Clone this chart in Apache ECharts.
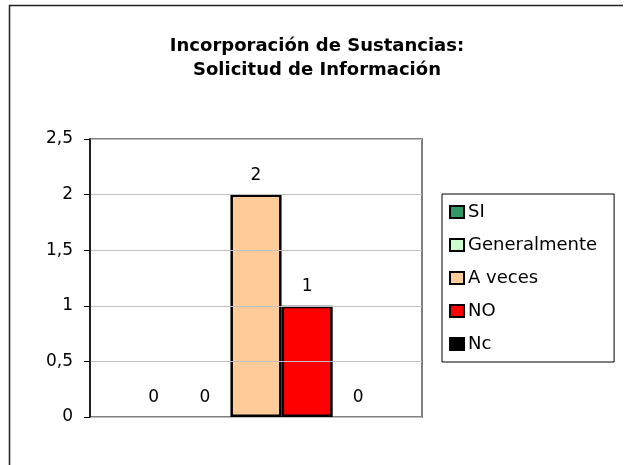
<!DOCTYPE html>
<html>
<head>
<meta charset="utf-8">
<script src="https://cdn.jsdelivr.net/npm/echarts@6/dist/echarts.min.js"></script>
<style>
  html, body { margin: 0; padding: 0; background: #fff; }
  #chart { width: 628px; height: 465px; }
</style>
</head>
<body>
<div id="chart"></div>
<script>
// Encuesta: respuestas sobre solicitud de información al incorporar sustancias
const titulo = 'Incorporación de Sustancias:\nSolicitud de Información';
const respuestas = ['SI', 'Generalmente', 'A veces', 'NO', 'Nc'];
const cantidades = [0, 0, 2, 1, 0];
const colores = ['#339966', '#CCFFCC', '#FFCC99', '#FF0000', '#000000'];
const grupo = ['Solicitud de Información'];
const escalaY = { min: 0, max: 2.5, interval: 0.5 };

const fuente = 'DejaVu Sans';

const chart = echarts.init(document.getElementById('chart'), null, { renderer: 'canvas' });

const series = respuestas.map((nombre, i) => ({
  name: nombre,
  type: 'bar',
  data: [{
    value: cantidades[i],
    // una barra de altura cero no debe dejar un trazo negro sobre el eje
    itemStyle: { borderWidth: cantidades[i] === 0 ? 0 : 2.5 }
  }],
  barGap: '0%',
  barCategoryGap: '23%',
  itemStyle: { color: colores[i], borderColor: '#000', borderWidth: 2.5 },
  label: {
    show: true,
    position: 'top',
    distance: 11,
    formatter: '{c}',
    color: '#000',
    fontFamily: fuente,
    fontSize: 17
  },
  emphasis: { disabled: true }
}));

chart.setOption({
  animation: false,
  backgroundColor: '#fff',
  title: {
    text: titulo,
    left: 317,
    top: 34,
    textAlign: 'center',
    padding: 0,
    textStyle: {
      fontFamily: fuente,
      fontWeight: 'bold',
      fontSize: 18,
      lineHeight: 24,
      color: '#000'
    }
  },
  legend: {
    data: respuestas,
    orient: 'vertical',
    left: 442,
    top: 194,
    padding: [8, 17, 8, 7],
    itemGap: 13,
    itemWidth: 14,
    itemHeight: 12,
    borderColor: '#000',
    borderWidth: 1,
    backgroundColor: '#fff',
    icon: 'rect',
    itemStyle: { borderColor: '#000', borderWidth: 2 },
    textStyle: { fontFamily: fuente, fontSize: 18, lineHeight: 20, color: '#000', padding: [0, 0, 0, -1] },
    selectedMode: false
  },
  grid: {
    left: 90,
    right: 206,
    top: 139,
    bottom: 48,
    show: true,
    borderColor: '#808080',
    borderWidth: 2,
    backgroundColor: '#fff'
  },
  xAxis: {
    type: 'category',
    data: grupo,
    axisLine: { show: true, lineStyle: { color: '#808080', width: 2 } },
    axisTick: { show: false },
    axisLabel: { show: false },
    splitLine: { show: false }
  },
  yAxis: {
    type: 'value',
    min: escalaY.min,
    max: escalaY.max,
    interval: escalaY.interval,
    z: 5,
    axisLine: { show: true, lineStyle: { color: '#000', width: 1.5 } },
    axisTick: { show: true, length: 6, lineStyle: { color: '#000', width: 1 } },
    axisLabel: {
      margin: 17,
      color: '#000',
      fontFamily: fuente,
      fontSize: 17,
      formatter: v => String(v).replace('.', ',')
    },
    splitLine: { show: true, lineStyle: { color: '#c0c0c0', width: 1 } }
  },
  graphic: [{
    type: 'polyline',
    silent: true,
    z: 10,
    shape: { points: [[9.5, 470], [9.5, 5.5], [623, 5.5]] },
    style: { stroke: '#222', lineWidth: 1.5, fill: null }
  }],
  series: series
});
</script>
</body>
</html>
